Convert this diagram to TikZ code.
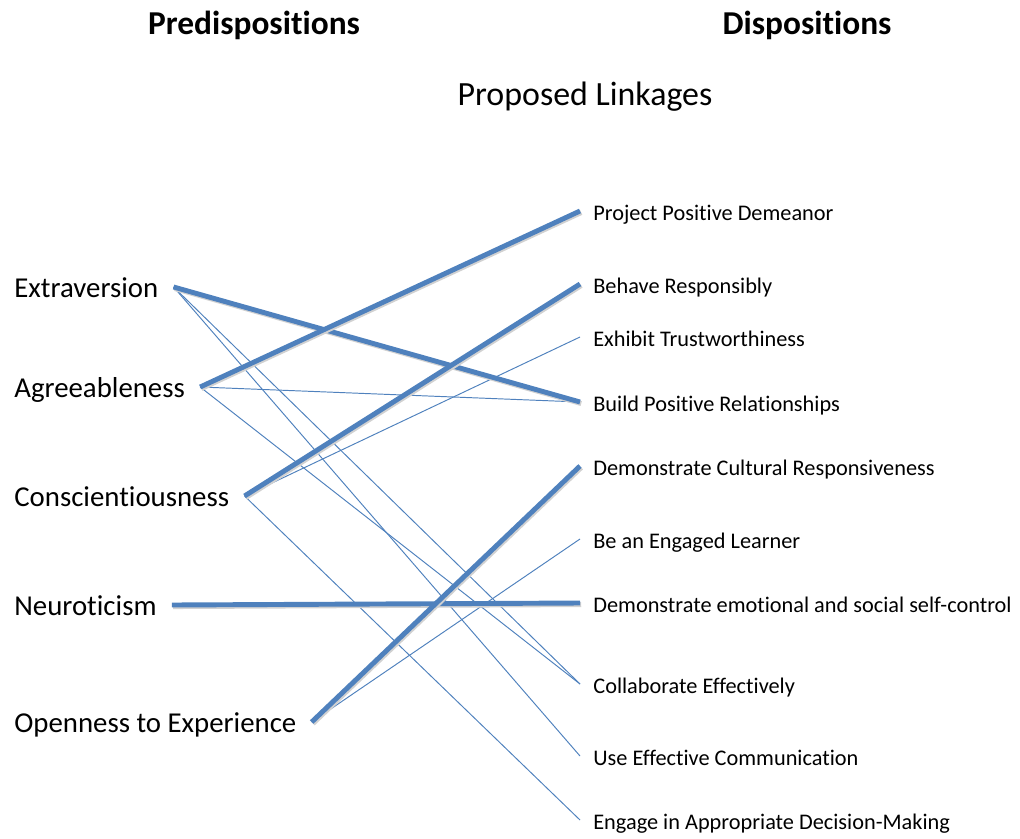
\documentclass[tikz,border=0pt]{standalone}
\usepackage{fontspec}
\setmainfont[Ligatures=NoCommon]{Carlito}
\definecolor{linkblue}{HTML}{4F81BD}

\begin{document}
\begin{tikzpicture}[x=0.02cm, y=-0.02cm,
  predisp/.style={anchor=west, font=\fontsize{16.4}{19}\selectfont, inner xsep=0.3cm, inner ysep=0pt, text height=2.7ex, text depth=0.2ex},
  disp/.style={anchor=west, font=\fontsize{12.7}{15}\selectfont, inner xsep=0.26cm, inner ysep=0pt, text height=2.4ex, text depth=0.25ex},
  stronglink/.style={linkblue, line width=2.8pt, preaction={draw=black!18, line width=2.8pt, transform canvas={shift={(0.7pt,-0.9pt)}}}},
  weaklink/.style={linkblue, line width=0.55pt}]
  \useasboundingbox (0,0) rectangle (1020,838);

  % Titres
  \node[font=\fontsize{19}{23}\selectfont\bfseries] (hpre) at (254,25) {Predispositions};
  \node[font=\fontsize{19}{23}\selectfont\bfseries] (hdis) at (807,25) {Dispositions};
  \node[font=\fontsize{19.3}{23}\selectfont] (hlink) at (585,97) {Proposed Linkages};

  % Predispositions
  \node[predisp] (ext) at (-1,287) {Extraversion};
  \node[predisp] (agr) at (-1,387) {Agreeableness};
  \node[predisp] (con) at (-1,496) {Conscientiousness};
  \node[predisp] (neu) at (-1,605) {Neuroticism};
  \node[predisp] (ope) at (-1,722) {Openness to Experience};

  % Dispositions
  \node[disp] (ppd) at (580,211) {Project Positive Demeanor};
  \node[disp] (beh) at (580,284) {Behave Responsibly};
  \node[disp] (exh) at (580,337) {Exhibit Trustworthiness};
  \node[disp] (bpr) at (580,402) {Build Positive Relationships};
  \node[disp] (dcr) at (580,466) {Demonstrate Cultural Responsiveness};
  \node[disp] (eng) at (580,539) {Be an Engaged Learner};
  \node[disp] (emo) at (580,603) {Demonstrate emotional and social self-control};
  \node[disp] (col) at (580,684) {Collaborate Effectively};
  \node[disp] (com) at (580,756) {Use Effective Communication};
  \node[disp] (dec) at (580,820) {Engage in Appropriate Decision-Making};

  % Liens secondaires
  \draw[weaklink] (ext.east) -- (col.west);
  \draw[weaklink] (ext.east) -- (com.west);
  \draw[weaklink] (agr.east) -- (bpr.west);
  \draw[weaklink] (agr.east) -- (col.west);
  \draw[weaklink] (con.east) -- (exh.west);
  \draw[weaklink] (con.east) -- (dec.west);
  \draw[weaklink] (ope.east) -- (eng.west);

  % Liens principaux
  \draw[stronglink] (ext.east) -- (bpr.west);
  \draw[stronglink] (agr.east) -- (ppd.west);
  \draw[stronglink] (con.east) -- (beh.west);
  \draw[stronglink] (neu.east) -- (emo.west);
  \draw[stronglink] (ope.east) -- (dcr.west);
\end{tikzpicture}
\end{document}
